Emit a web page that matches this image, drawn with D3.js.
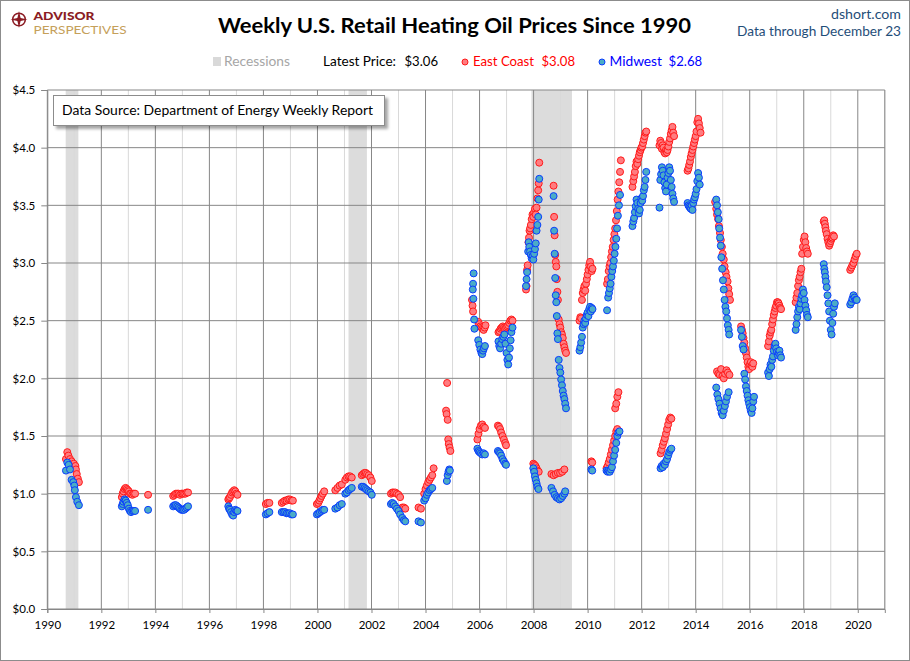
<!DOCTYPE html>
<html><head><meta charset="utf-8">
<script src="https://cdn.jsdelivr.net/npm/d3@7"></script>
<style>
body{margin:0;background:#fff}
svg{display:block}
text{font-family:Lato,"Open Sans","DejaVu Sans",sans-serif}
</style>
</head><body>
<svg id="c" width="910" height="661"></svg>
<script>
// ---------------- DATA ----------------
const recessions = [[1990.68, 1991.15], [2001.15, 2001.83], [2007.92, 2009.42]];
const yTicks = [0, 0.5, 1.0, 1.5, 2.0, 2.5, 3.0, 3.5, 4.0, 4.5];
const xTicks = [1990, 1992, 1994, 1996, 1998, 2000, 2002, 2004, 2006, 2008, 2010, 2012, 2014, 2016, 2018, 2020];
const gridYears = [1990,1991,1992,1993,1994,1995,1996,1997,1998,1999,2000,2001,2002,2003,2004,2005,2006,2007,2008,2009,2010,2011,2012,2013,2014,2015,2016,2017,2018,2019,2020,2021];
const latest = {all: "$3.06", east: "$3.08", midwest: "$2.68"};

// East Coast weekly prices [decimal year, $/gal]
const eastCoast = [
[1990.69,1.30],[1990.74,1.36],[1990.78,1.33],[1990.84,1.30],[1990.90,1.28],[1990.98,1.26],[1991.04,1.24],[1991.06,1.21],[1991.09,1.17],[1991.13,1.13],[1991.17,1.10],
[1992.76,0.97],[1992.79,1.00],[1992.82,1.02],[1992.86,1.04],[1992.90,1.05],[1992.94,1.04],[1992.98,1.03],[1993.02,1.02],[1993.06,1.00],[1993.10,1.00],[1993.15,0.99],[1993.20,1.00],[1993.25,1.00],
[1993.73,0.99],
[1994.66,0.98],[1994.71,0.99],[1994.76,1.00],[1994.81,1.00],[1994.86,1.00],[1994.91,0.99],[1994.96,1.00],[1995.01,1.00],[1995.06,1.00],[1995.11,1.00],[1995.16,1.01],[1995.21,1.01],
[1996.70,0.95],[1996.73,0.96],[1996.76,0.97],[1996.80,0.99],[1996.84,1.01],[1996.88,1.02],[1996.92,1.03],[1996.96,1.02],[1997.00,1.00],[1997.04,0.99],
[1998.09,0.91],[1998.15,0.92],[1998.22,0.92],
[1998.68,0.92],[1998.74,0.93],[1998.80,0.94],[1998.86,0.94],[1998.92,0.95],[1998.98,0.95],[1999.04,0.94],[1999.09,0.94],
[1999.98,0.91],[2000.03,0.92],[2000.07,0.94],[2000.11,0.96],[2000.15,0.98],[2000.20,1.00],[2000.25,1.02],
[2000.66,1.03],[2000.74,1.05],[2000.82,1.07],[2000.90,1.08],[2001.03,1.12],[2001.09,1.14],[2001.15,1.15],[2001.21,1.15],[2001.27,1.14],
[2001.64,1.16],[2001.69,1.17],[2001.74,1.18],[2001.79,1.18],[2001.84,1.17],[2001.90,1.16],[2001.96,1.14],[2002.01,1.11],
[2002.72,1.00],[2002.77,1.01],[2002.82,1.01],[2002.88,1.01],[2002.94,1.00],[2003.00,0.99],[2003.06,0.97],[2003.14,0.88],[2003.20,0.88],[2003.25,0.87],
[2003.74,0.88],[2003.83,0.87],[2003.95,1.00],[2004.00,1.04],[2004.05,1.07],[2004.10,1.10],[2004.15,1.12],[2004.20,1.14],[2004.25,1.16],[2004.30,1.22],
[2004.76,1.72],[2004.78,1.69],[2004.80,1.96],[2004.82,1.64],[2004.84,1.47],[2004.86,1.43],[2004.89,1.40],[2004.92,1.37],
[2005.72,2.68],[2005.74,2.63],[2005.76,2.58],[2005.95,2.49],[2005.99,2.47],[2006.03,2.45],[2006.07,2.44],[2006.11,2.43],[2006.15,2.42],[2006.19,2.44],[2006.22,2.46],
[2005.92,1.47],[2005.96,1.52],[2006.00,1.56],[2006.05,1.59],[2006.10,1.60],[2006.15,1.58],[2006.20,1.57],
[2006.70,2.40],[2006.74,2.41],[2006.78,2.43],[2006.82,2.44],[2006.86,2.45],[2006.90,2.44],[2006.94,2.43],[2006.98,2.44],[2007.02,2.45],[2007.06,2.46],[2007.10,2.48],[2007.14,2.50],[2007.18,2.51],[2007.22,2.50],
[2006.68,1.59],[2006.72,1.58],[2006.76,1.56],[2006.80,1.53],[2006.85,1.50],[2006.90,1.47],[2006.95,1.44],[2006.98,1.42],
[2007.72,2.77],[2007.74,2.80],[2007.76,2.94],[2007.78,2.98],[2007.81,3.18],[2007.83,3.22],[2007.85,3.28],[2007.87,3.30],[2007.90,3.33],[2007.93,3.38],[2007.96,3.42],[2007.99,3.40],[2008.02,3.44],[2008.05,3.47],[2008.08,3.42],[2008.11,3.48],[2008.14,3.56],[2008.17,3.63],[2008.19,3.69],[2008.21,3.87],
[2007.99,1.26],[2008.03,1.25],[2008.07,1.24],[2008.11,1.22],[2008.15,1.20],[2008.19,1.19],
[2008.74,3.67],[2008.76,3.40],[2008.78,3.24],[2008.80,3.07],[2008.82,3.01],[2008.84,2.97],[2008.86,2.86],[2008.88,2.75],[2008.90,2.68],[2008.93,2.51],[2008.96,2.47],[2008.99,2.44],[2009.02,2.40],[2009.05,2.38],[2009.08,2.35],[2009.11,2.30],[2009.14,2.27],[2009.17,2.24],[2009.20,2.22],
[2008.66,1.17],[2008.74,1.16],[2008.82,1.17],[2008.90,1.18],[2008.98,1.18],[2009.06,1.19],[2009.14,1.21],
[2009.70,2.50],[2009.73,2.53],[2009.76,2.52],[2009.79,2.68],[2009.82,2.74],[2009.85,2.77],[2009.88,2.80],[2009.91,2.76],[2009.94,2.82],[2009.97,2.86],[2010.00,2.90],[2010.03,2.94],[2010.06,2.98],[2010.09,3.01],[2010.12,2.97],[2010.15,2.93],[2010.18,2.95],
[2010.14,1.28],[2010.17,1.27],
[2010.72,2.82],[2010.75,2.86],[2010.78,2.93],[2010.81,2.97],[2010.84,3.00],[2010.87,3.05],[2010.90,3.10],[2010.93,3.14],[2010.96,3.20],[2010.99,3.25],[2011.02,3.30],[2011.05,3.37],[2011.08,3.45],[2011.11,3.55],[2011.14,3.62],[2011.17,3.70],[2011.20,3.79],[2011.23,3.89],
[2010.70,1.22],[2010.74,1.24],[2010.78,1.27],[2010.82,1.30],[2010.86,1.34],[2010.90,1.38],[2010.94,1.42],[2010.98,1.46],[2011.02,1.50],[2011.06,1.54],[2011.10,1.56],
[2011.02,1.74],[2011.06,1.78],[2011.10,1.84],[2011.14,1.88],
[2011.66,3.66],[2011.69,3.71],[2011.72,3.75],[2011.75,3.79],[2011.78,3.84],[2011.81,3.88],[2011.84,3.86],[2011.87,3.90],[2011.90,3.93],[2011.93,3.96],[2011.96,3.98],[2011.99,4.00],[2012.02,4.01],[2012.05,4.04],[2012.08,4.07],[2012.11,4.10],[2012.14,4.13],[2012.17,4.14],
[2012.66,4.02],[2012.69,4.06],[2012.72,4.04],[2012.75,3.99],[2012.78,4.02],[2012.81,4.00],[2012.84,3.96],[2012.87,3.95],[2012.90,3.98],[2012.93,3.96],[2012.96,3.98],[2012.99,4.01],[2013.02,4.05],[2013.05,4.08],[2013.08,4.12],[2013.11,4.15],[2013.14,4.18],[2013.17,4.13],[2013.20,4.10],
[2012.70,1.35],[2012.74,1.38],[2012.78,1.42],[2012.82,1.45],[2012.86,1.48],[2012.90,1.52],[2012.94,1.56],[2012.98,1.60],[2013.02,1.64],[2013.06,1.66],[2013.10,1.65],
[2013.70,3.80],[2013.73,3.82],[2013.76,3.85],[2013.79,3.88],[2013.82,3.92],[2013.85,3.95],[2013.88,3.98],[2013.91,4.01],[2013.94,4.04],[2013.97,4.07],[2014.00,4.10],[2014.03,4.14],[2014.06,4.22],[2014.09,4.25],[2014.12,4.21],[2014.15,4.17],[2014.18,4.13],
[2014.72,3.53],[2014.76,3.47],[2014.79,3.42],[2014.83,3.38],[2014.86,3.32],[2014.90,3.26],[2014.93,3.20],[2014.97,3.14],[2015.00,3.08],[2015.04,3.03],[2015.07,2.97],[2015.11,2.92],[2015.14,2.88],[2015.18,2.84],[2015.21,2.78],[2015.24,2.73],[2015.27,2.68],
[2014.79,2.06],[2014.84,2.04],[2014.89,2.03],[2014.94,2.08],[2014.99,2.02],[2015.04,2.00],[2015.09,2.04],[2015.14,2.07],[2015.19,2.05],[2015.25,2.03],
[2015.68,2.45],[2015.71,2.42],[2015.74,2.39],[2015.77,2.35],[2015.80,2.31],[2015.83,2.26],[2015.86,2.22],[2015.89,2.18],[2015.92,2.14],[2015.95,2.10],[2015.98,2.08],[2016.01,2.12],[2016.04,2.14],[2016.07,2.11],[2016.10,2.10],[2016.13,2.13],
[2016.68,2.28],[2016.71,2.32],[2016.74,2.37],[2016.77,2.40],[2016.80,2.42],[2016.83,2.47],[2016.86,2.51],[2016.89,2.55],[2016.92,2.58],[2016.95,2.61],[2016.98,2.63],[2017.01,2.66],[2017.04,2.66],[2017.07,2.65],[2017.10,2.63],[2017.13,2.61],[2017.16,2.60],
[2017.70,2.66],[2017.73,2.70],[2017.76,2.74],[2017.79,2.80],[2017.82,2.85],[2017.85,2.88],[2017.88,2.92],[2017.91,2.95],[2017.94,3.08],[2017.97,3.14],[2018.00,3.20],[2018.03,3.23],[2018.06,3.18],[2018.09,3.13],[2018.12,3.10],[2018.15,3.08],
[2018.74,3.36],[2018.76,3.37],[2018.78,3.34],[2018.80,3.31],[2018.82,3.28],[2018.85,3.25],[2018.88,3.21],[2018.91,3.18],[2018.94,3.15],[2018.97,3.17],[2019.00,3.19],[2019.03,3.21],[2019.06,3.22],[2019.09,3.24],[2019.12,3.23],
[2019.72,2.94],[2019.76,2.96],[2019.80,2.98],[2019.84,3.00],[2019.88,3.03],[2019.92,3.06],[2019.96,3.08]
];

// Midwest weekly prices [decimal year, $/gal]
const midwest = [
[1990.69,1.20],[1990.74,1.27],[1990.79,1.25],[1990.84,1.21],[1990.90,1.12],[1990.96,1.10],[1991.00,1.07],[1991.02,1.03],[1991.06,0.97],[1991.11,0.93],[1991.17,0.90],
[1992.76,0.89],[1992.79,0.91],[1992.82,0.93],[1992.86,0.95],[1992.90,0.94],[1992.94,0.92],[1992.98,0.90],[1993.02,0.87],[1993.06,0.85],[1993.10,0.84],[1993.15,0.85],[1993.20,0.85],[1993.25,0.85],
[1993.73,0.86],
[1994.66,0.89],[1994.71,0.90],[1994.76,0.90],[1994.81,0.89],[1994.86,0.88],[1994.91,0.87],[1994.96,0.86],[1995.01,0.86],[1995.06,0.86],[1995.11,0.87],[1995.16,0.88],[1995.21,0.89],
[1996.70,0.89],[1996.73,0.87],[1996.76,0.86],[1996.80,0.84],[1996.84,0.82],[1996.88,0.81],[1996.92,0.84],[1996.96,0.86],[1997.00,0.85],[1997.04,0.85],
[1998.09,0.82],[1998.15,0.83],[1998.22,0.84],
[1998.68,0.84],[1998.74,0.84],[1998.80,0.84],[1998.86,0.83],[1998.92,0.83],[1998.98,0.83],[1999.04,0.82],[1999.09,0.82],
[1999.98,0.82],[2000.03,0.83],[2000.09,0.84],[2000.15,0.85],[2000.20,0.86],[2000.25,0.86],
[2000.66,0.87],[2000.74,0.88],[2000.82,0.90],[2000.90,0.91],[2001.03,1.00],[2001.09,1.01],[2001.15,1.03],[2001.21,1.04],[2001.27,1.05],
[2001.64,1.06],[2001.69,1.06],[2001.74,1.05],[2001.79,1.04],[2001.84,1.03],[2001.90,1.02],[2001.96,1.01],[2002.01,0.99],
[2002.72,0.91],[2002.77,0.92],[2002.82,0.91],[2002.88,0.89],[2002.94,0.87],[2003.00,0.85],[2003.06,0.82],[2003.14,0.79],[2003.20,0.77],[2003.25,0.76],
[2003.74,0.76],[2003.83,0.75],[2003.95,0.94],[2004.00,0.96],[2004.05,0.99],[2004.10,1.01],[2004.15,1.03],[2004.20,1.04],[2004.25,1.05],
[2004.79,1.11],[2004.82,1.16],[2004.85,1.19],[2004.88,1.21],[2004.90,1.20],
[2005.78,2.91],[2005.76,2.82],[2005.75,2.77],[2005.77,2.69],[2005.80,2.51],[2005.81,2.43],[2005.95,2.33],[2005.99,2.29],[2006.03,2.25],[2006.07,2.22],[2006.10,2.21],[2006.13,2.24],[2006.16,2.26],[2006.20,2.28],
[2005.92,1.39],[2005.96,1.37],[2006.00,1.36],[2006.05,1.35],[2006.10,1.34],[2006.15,1.35],[2006.20,1.34],
[2006.70,2.32],[2006.73,2.28],[2006.76,2.26],[2006.80,2.30],[2006.84,2.34],[2006.88,2.36],[2006.92,2.38],[2006.96,2.30],[2007.00,2.22],[2007.03,2.16],[2007.06,2.12],[2007.09,2.18],[2007.12,2.26],[2007.15,2.33],[2007.18,2.40],[2007.22,2.44],
[2006.68,1.37],[2006.72,1.36],[2006.76,1.35],[2006.80,1.33],[2006.85,1.30],[2006.90,1.28],[2006.95,1.26],[2006.98,1.25],
[2007.72,2.80],[2007.74,2.86],[2007.76,2.92],[2007.80,3.10],[2007.82,3.18],[2007.84,3.14],[2007.87,3.10],[2007.90,3.07],[2007.93,3.04],[2007.96,3.06],[2007.99,3.03],[2008.02,3.08],[2008.05,3.12],[2008.08,3.17],[2008.11,3.28],[2008.14,3.33],[2008.17,3.40],[2008.19,3.55],[2008.21,3.73],
[2007.99,1.22],[2008.02,1.19],[2008.05,1.15],[2008.08,1.12],[2008.11,1.09],[2008.14,1.06],[2008.18,1.04],
[2008.74,3.58],[2008.76,3.28],[2008.78,3.08],[2008.80,2.87],[2008.82,2.72],[2008.84,2.66],[2008.86,2.54],[2008.88,2.39],[2008.90,2.34],[2008.93,2.16],[2008.96,2.09],[2008.99,2.05],[2009.02,1.99],[2009.05,1.94],[2009.08,1.89],[2009.11,1.85],[2009.14,1.82],[2009.17,1.78],[2009.20,1.74],
[2008.66,1.05],[2008.72,1.02],[2008.78,0.99],[2008.84,0.97],[2008.90,0.96],[2008.96,0.95],[2009.02,0.96],[2009.08,0.98],[2009.14,1.00],[2009.17,1.02],
[2009.70,2.24],[2009.73,2.27],[2009.76,2.31],[2009.79,2.36],[2009.82,2.44],[2009.85,2.47],[2009.88,2.50],[2009.91,2.48],[2009.94,2.52],[2009.97,2.55],[2010.00,2.57],[2010.03,2.54],[2010.06,2.60],[2010.09,2.62],[2010.12,2.58],[2010.15,2.61],[2010.18,2.60],
[2010.14,1.21],[2010.17,1.20],
[2010.72,2.59],[2010.76,2.70],[2010.79,2.74],[2010.82,2.78],[2010.85,2.82],[2010.88,2.88],[2010.91,2.93],[2010.94,2.97],[2010.97,3.02],[2011.00,3.08],[2011.03,3.14],[2011.06,3.21],[2011.09,3.30],[2011.12,3.41],[2011.16,3.50],[2011.20,3.59],
[2010.70,1.20],[2010.74,1.19],[2010.78,1.20],[2010.82,1.19],[2010.86,1.21],[2010.90,1.23],[2010.94,1.28],[2010.98,1.33],[2011.02,1.38],[2011.06,1.44],[2011.10,1.50],[2011.14,1.53],[2011.18,1.54],
[2011.66,3.32],[2011.69,3.36],[2011.72,3.39],[2011.75,3.44],[2011.78,3.49],[2011.81,3.55],[2011.84,3.52],[2011.87,3.47],[2011.90,3.43],[2011.93,3.46],[2011.96,3.52],[2011.99,3.56],[2012.02,3.54],[2012.05,3.58],[2012.08,3.63],[2012.11,3.66],[2012.14,3.72],[2012.17,3.79],
[2012.66,3.48],[2012.69,3.72],[2012.72,3.77],[2012.75,3.83],[2012.78,3.80],[2012.81,3.76],[2012.84,3.70],[2012.87,3.65],[2012.90,3.62],[2012.93,3.68],[2012.96,3.74],[2012.99,3.78],[2013.02,3.83],[2013.05,3.80],[2013.08,3.72],[2013.11,3.66],[2013.14,3.60],[2013.17,3.56],[2013.20,3.53],
[2012.70,1.22],[2012.74,1.24],[2012.78,1.23],[2012.82,1.26],[2012.86,1.25],[2012.90,1.28],[2012.94,1.30],[2012.98,1.33],[2013.02,1.36],[2013.06,1.38],[2013.10,1.39],
[2013.70,3.52],[2013.73,3.50],[2013.76,3.49],[2013.79,3.48],[2013.82,3.47],[2013.85,3.50],[2013.88,3.46],[2013.91,3.52],[2013.94,3.55],[2013.97,3.57],[2014.00,3.60],[2014.03,3.64],[2014.06,3.71],[2014.09,3.78],[2014.12,3.74],[2014.15,3.68],
[2014.76,3.55],[2014.79,3.50],[2014.82,3.44],[2014.85,3.38],[2014.87,3.30],[2014.90,3.22],[2014.93,3.15],[2014.95,3.05],[2014.98,2.95],[2015.01,2.85],[2015.04,2.77],[2015.07,2.68],[2015.10,2.62],[2015.13,2.58],[2015.16,2.52],[2015.19,2.46],[2015.22,2.42],[2015.24,2.38],
[2014.76,1.92],[2014.80,1.86],[2014.84,1.82],[2014.88,1.78],[2014.92,1.74],[2014.96,1.70],[2015.00,1.68],[2015.04,1.72],[2015.08,1.76],[2015.12,1.80],[2015.16,1.84],[2015.22,1.88],
[2015.68,2.42],[2015.71,2.36],[2015.74,2.28],[2015.77,2.25],[2015.80,2.04],[2015.83,1.99],[2015.86,1.93],[2015.89,1.89],[2015.92,1.85],[2015.95,1.81],[2015.98,1.78],[2016.01,1.75],[2016.04,1.72],[2016.07,1.70],[2016.10,1.74],[2016.13,1.80],[2016.16,1.84],
[2016.68,2.05],[2016.71,2.02],[2016.74,2.08],[2016.77,2.12],[2016.80,2.10],[2016.83,2.16],[2016.86,2.19],[2016.89,2.24],[2016.92,2.28],[2016.95,2.30],[2016.98,2.26],[2017.01,2.23],[2017.04,2.20],[2017.07,2.22],[2017.10,2.24],[2017.13,2.20],[2017.16,2.18],
[2017.70,2.42],[2017.73,2.47],[2017.76,2.53],[2017.79,2.58],[2017.82,2.62],[2017.85,2.60],[2017.88,2.65],[2017.91,2.69],[2017.94,2.72],[2017.97,2.77],[2018.00,2.74],[2018.03,2.68],[2018.06,2.63],[2018.09,2.59],[2018.12,2.55],[2018.15,2.53],
[2018.74,2.99],[2018.76,2.95],[2018.78,2.92],[2018.80,2.88],[2018.82,2.84],[2018.85,2.79],[2018.88,2.72],[2018.91,2.65],[2018.94,2.58],[2018.97,2.50],[2019.00,2.42],[2019.03,2.38],[2019.06,2.48],[2019.09,2.56],[2019.12,2.62],[2019.15,2.65],
[2019.72,2.64],[2019.76,2.66],[2019.80,2.69],[2019.84,2.72],[2019.88,2.70],[2019.92,2.68],[2019.96,2.68]
];

// ---------------- DRAW ----------------
const W = 910, H = 661;
const svg = d3.select("#c");
const defs = svg.append("defs");
const f = defs.append("filter").attr("id","sh").attr("x","-10%").attr("y","-30%").attr("width","130%").attr("height","180%");
f.append("feDropShadow").attr("dx",3).attr("dy",3).attr("stdDeviation",1.5).attr("flood-color","#000").attr("flood-opacity",0.35);

svg.append("rect").attr("x",0.5).attr("y",0.5).attr("width",W-1).attr("height",H-1)
  .attr("fill","#fff").attr("stroke","#8c8c8c");

const x = d3.scaleLinear().domain([1990, 2021]).range([47.3, 884.8]);
const y = d3.scaleLinear().domain([0, 4.5]).range([609, 90]);

const plot = svg.append("g");
// recession bands
plot.selectAll("rect.rec").data(recessions).join("rect").attr("class","rec")
  .attr("x", d => x(d[0])).attr("width", d => x(d[1]) - x(d[0]))
  .attr("y", y(4.5)).attr("height", y(0) - y(4.5)).attr("fill", "#dcdcdc");

// vertical gridlines
plot.selectAll("line.vg").data(gridYears.filter(d => d % 2 === 1)).join("line").attr("class","vg")
  .attr("x1", d => x(d)).attr("x2", d => x(d)).attr("y1", y(4.5)).attr("y2", y(0))
  .attr("stroke", "#d9d9d9").attr("stroke-width", 1);
plot.selectAll("line.vG").data(gridYears.filter(d => d % 2 === 0)).join("line").attr("class","vG")
  .attr("x1", d => x(d)).attr("x2", d => x(d)).attr("y1", y(4.5)).attr("y2", y(0))
  .attr("stroke", "#878787").attr("stroke-width", 1);
// horizontal gridlines
plot.selectAll("line.hg").data(yTicks).join("line").attr("class","hg")
  .attr("x1", x(1990)).attr("x2", x(2021)).attr("y1", d => y(d)).attr("y2", d => y(d))
  .attr("stroke", "#878787").attr("stroke-width", 1);
// right border
plot.append("line").attr("x1", x(2021)).attr("x2", x(2021)).attr("y1", y(4.5)).attr("y2", y(0)).attr("stroke","#878787");

// axes
const yAxis = svg.append("g").attr("transform", `translate(${x(1990)},0)`)
  .call(d3.axisLeft(y).tickValues(yTicks).tickFormat(d3.format("$.1f")).tickSize(6).tickPadding(6));
const xAxis = svg.append("g").attr("transform", `translate(0,${y(0)})`)
  .call(d3.axisBottom(x).tickValues(xTicks).tickFormat(d3.format("d")).tickSize(4).tickPadding(8));
[yAxis, xAxis].forEach(a => {
  a.selectAll("path,line").attr("stroke", "#878787");
  a.selectAll("text").attr("fill", "#000").style("font-size", "11.5px").style("font-family", "Lato, sans-serif");
});

// points
const pts = svg.append("g");
pts.selectAll("circle.e").data(eastCoast).join("circle").attr("class","e")
  .attr("cx", d => x(d[0])).attr("cy", d => y(d[1])).attr("r", 3.5)
  .attr("fill", "#ff7c80").attr("stroke", "#ff1a1a").attr("stroke-width", 1);
pts.selectAll("circle.m").data(midwest).join("circle").attr("class","m")
  .attr("cx", d => x(d[0])).attr("cy", d => y(d[1])).attr("r", 3.5)
  .attr("fill", "#4bacc6").attr("stroke", "#0a3cff").attr("stroke-width", 1);

// text helper
function txt(s, xx, yy, opt) {
  const t = svg.append("text").attr("x", xx).attr("y", yy).text(s)
    .style("font-size", (opt.size || 13) + "px").attr("fill", opt.fill || "#000");
  if (opt.weight) t.style("font-weight", opt.weight);
  if (opt.anchor) t.attr("text-anchor", opt.anchor);
  if (opt.len) t.attr("textLength", opt.len).attr("lengthAdjust", "spacingAndGlyphs");
  return t;
}

// Title & header
txt("Weekly U.S. Retail Heating Oil Prices Since 1990", 218, 33, {size: 21, weight: 700, len: 473});
txt("dshort.com", 901, 19, {size: 13.5, fill: "#1f4e79", anchor: "end", len: 70});
txt("Data through December 23", 901, 36, {size: 13.5, fill: "#1f4e79", anchor: "end", len: 164});

// Logo
const logo = svg.append("g");
logo.append("circle").attr("cx", 19).attr("cy", 19.5).attr("r", 6.3).attr("fill", "none").attr("stroke", "#8b1c24").attr("stroke-width", 1.6);
logo.append("path").attr("d", "M19,11 L20.6,17.9 L27.5,19.5 L20.6,21.1 L19,28 L17.4,21.1 L10.5,19.5 L17.4,17.9 Z").attr("fill", "#8b1c24");
logo.append("circle").attr("cx", 19).attr("cy", 19.5).attr("r", 2).attr("fill", "#8b1c24");
txt("ADVISOR", 33.5, 20, {size: 12, weight: 900, fill: "#8b1c24", len: 61});
txt("PERSPECTIVES", 33.5, 33.5, {size: 11, weight: 400, fill: "#c5a05a", len: 93});

// Legend
svg.append("rect").attr("x", 213).attr("y", 57).attr("width", 8).attr("height", 9).attr("fill", "#d9d9d9");
txt("Recessions", 224, 66, {size: 12.5, fill: "#a6a6a6", len: 66});
txt("Latest Price:", 323, 66, {size: 12.5, len: 73});
txt(latest.all, 404.5, 66, {size: 12.5, len: 33.5});
svg.append("circle").attr("cx", 465).attr("cy", 62).attr("r", 3).attr("fill", "#ff7c80").attr("stroke", "#ff1a1a");
txt("East Coast", 473, 66, {size: 12.5, fill: "#ff0000", len: 61});
txt(latest.east, 541.5, 66, {size: 12.5, fill: "#ff0000", len: 33.5});
svg.append("circle").attr("cx", 602).attr("cy", 62).attr("r", 3).attr("fill", "#4bacc6").attr("stroke", "#0a3cff");
txt("Midwest", 609.5, 66, {size: 12.5, fill: "#0000ff", len: 52.5});
txt(latest.midwest, 668.6, 66, {size: 12.5, fill: "#0000ff", len: 33.5});

// Data source box
svg.append("rect").attr("x", 53.5).attr("y", 95.5).attr("width", 331).attr("height", 30)
  .attr("fill", "#fff").attr("stroke", "#8c8c8c").attr("filter", "url(#sh)");
txt("Data Source: Department of Energy Weekly Report", 62, 115, {size: 13, len: 311});
</script>
</body></html>
